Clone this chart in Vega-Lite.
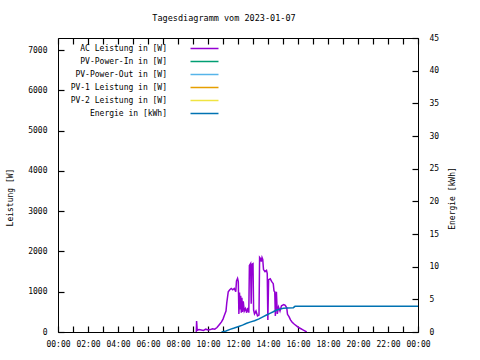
{
  "$schema": "https://vega.github.io/schema/vega-lite/v6.json",
  "autosize": {"type": "none"},
  "width": 360,
  "height": 294,
  "padding": {"left": 58, "top": 38, "right": 62, "bottom": 28},
  "background": "white",
  "config": {
    "font": "DejaVu Sans Mono",
    "view": {"stroke": "black", "strokeWidth": 1},
    "axis": {"labelFont": "DejaVu Sans Mono", "labelFontSize": 8, "labelColor": "black", "titleFont": "DejaVu Sans Mono", "titleFontSize": 8, "titleFontWeight": "normal", "titleColor": "black", "grid": false, "domain": false, "ticks": true, "tickColor": "black", "tickWidth": 1.2, "tickSize": 6, "offset": -6, "labelPadding": 11}
  },
  "title": {"text": "Tagesdiagramm vom 2023-01-07", "font": "DejaVu Sans Mono", "fontSize": 8.5, "fontWeight": "normal", "color": "black", "anchor": "middle", "dx": -14, "offset": 12},
  "datasets": {
    "ac": [
      {"h": 9.22, "w": 0}, {"h": 9.24, "w": 270}, {"h": 9.28, "w": 40}, {"h": 9.4, "w": 60}, {"h": 9.55, "w": 50}, {"h": 9.7, "w": 40}, {"h": 9.85, "w": 70}, {"h": 10.0, "w": 50}, {"h": 10.15, "w": 60}, {"h": 10.3, "w": 80}, {"h": 10.45, "w": 70}, {"h": 10.6, "w": 110}, {"h": 10.75, "w": 180}, {"h": 10.9, "w": 250}, {"h": 11.0, "w": 320}, {"h": 11.1, "w": 420}, {"h": 11.2, "w": 520}, {"h": 11.25, "w": 720}, {"h": 11.35, "w": 1000}, {"h": 11.45, "w": 1050}, {"h": 11.55, "w": 1080}, {"h": 11.65, "w": 1050}, {"h": 11.75, "w": 1080}, {"h": 11.85, "w": 1000}, {"h": 11.9, "w": 1270}, {"h": 11.97, "w": 1330}, {"h": 12.02, "w": 1250}, {"h": 12.06, "w": 450}, {"h": 12.1, "w": 980}, {"h": 12.14, "w": 560}, {"h": 12.18, "w": 900}, {"h": 12.22, "w": 480}, {"h": 12.26, "w": 850}, {"h": 12.3, "w": 500}, {"h": 12.35, "w": 760}, {"h": 12.42, "w": 520}, {"h": 12.5, "w": 580}, {"h": 12.58, "w": 480}, {"h": 12.65, "w": 600}, {"h": 12.72, "w": 480}, {"h": 12.76, "w": 1650}, {"h": 12.84, "w": 1700}, {"h": 12.88, "w": 700}, {"h": 12.92, "w": 1680}, {"h": 13.0, "w": 1700}, {"h": 13.04, "w": 550}, {"h": 13.1, "w": 450}, {"h": 13.2, "w": 520}, {"h": 13.3, "w": 400}, {"h": 13.4, "w": 420}, {"h": 13.44, "w": 1850}, {"h": 13.5, "w": 1820}, {"h": 13.55, "w": 1750}, {"h": 13.6, "w": 1850}, {"h": 13.65, "w": 1800}, {"h": 13.7, "w": 1550}, {"h": 13.8, "w": 1500}, {"h": 13.9, "w": 1530}, {"h": 13.95, "w": 1450}, {"h": 13.99, "w": 300}, {"h": 14.04, "w": 1300}, {"h": 14.15, "w": 1320}, {"h": 14.25, "w": 1250}, {"h": 14.35, "w": 1200}, {"h": 14.4, "w": 1020}, {"h": 14.45, "w": 1000}, {"h": 14.49, "w": 400}, {"h": 14.56, "w": 1000}, {"h": 14.62, "w": 450}, {"h": 14.7, "w": 620}, {"h": 14.8, "w": 520}, {"h": 14.9, "w": 650}, {"h": 15.05, "w": 680}, {"h": 15.15, "w": 660}, {"h": 15.25, "w": 600}, {"h": 15.3, "w": 440}, {"h": 15.4, "w": 380}, {"h": 15.5, "w": 300}, {"h": 15.6, "w": 250}, {"h": 15.7, "w": 210}, {"h": 15.8, "w": 180}, {"h": 15.9, "w": 150}, {"h": 16.0, "w": 120}, {"h": 16.1, "w": 100}, {"h": 16.2, "w": 80}, {"h": 16.3, "w": 60}, {"h": 16.45, "w": 30}, {"h": 16.58, "w": 0}
    ],
    "en": [
      {"h": 10.9, "e": 0}, {"h": 11.2, "e": 0.15}, {"h": 11.47, "e": 0.4}, {"h": 11.75, "e": 0.6}, {"h": 12.0, "e": 0.8}, {"h": 12.3, "e": 1.05}, {"h": 12.58, "e": 1.33}, {"h": 12.85, "e": 1.55}, {"h": 13.1, "e": 1.73}, {"h": 13.4, "e": 2.0}, {"h": 13.69, "e": 2.35}, {"h": 13.9, "e": 2.6}, {"h": 14.13, "e": 2.86}, {"h": 14.35, "e": 3.1}, {"h": 14.58, "e": 3.37}, {"h": 14.8, "e": 3.5}, {"h": 15.02, "e": 3.62}, {"h": 15.3, "e": 3.68}, {"h": 15.69, "e": 3.72}, {"h": 15.8, "e": 3.93}, {"h": 24, "e": 3.95}
    ]
  },
  "layer": [
    {
      "data": {"name": "ac"},
      "transform": [{"calculate": "'AC Leistung in [W]'", "as": "s"}],
      "mark": {"type": "line", "strokeWidth": 1.5, "clip": true},
      "encoding": {
        "x": {"field": "h", "type": "quantitative", "scale": {"domain": [0, 24], "nice": false}, "axis": {"orient": "bottom", "values": [0, 1, 2, 3, 4, 5, 6, 7, 8, 9, 10, 11, 12, 13, 14, 15, 16, 17, 18, 19, 20, 21, 22, 23, 24], "labelExpr": "datum.value % 2 == 1 ? '' : (datum.value % 24 < 10 ? '0' : '') + (datum.value % 24) + ':00'", "title": null, "labelPadding": 8, "labelFlush": false, "labelOverlap": false}},
        "y": {"field": "w", "type": "quantitative", "scale": {"domain": [0, 7300], "nice": false}, "axis": {"orient": "left", "format": "d", "values": [0, 1000, 2000, 3000, 4000, 5000, 6000, 7000], "title": "Leistung [W]", "titleX": -54, "titleY": 159, "titleAngle": -90, "titleBaseline": "middle", "titleAlign": "center"}},
        "color": {"field": "s", "type": "nominal", "scale": {"domain": ["AC Leistung in [W]", "PV-Power-In in [W]", "PV-Power-Out in [W]", "PV-1 Leistung in [W]", "PV-2 Leistung in [W]", "Energie in [kWh]"], "range": ["#9400d3", "#009e73", "#56b4e9", "#e69f00", "#f0e442", "#0072b2"]}, "legend": {"orient": "none", "legendX": 141, "legendY": 5, "title": null, "padding": 0, "symbolType": "M-3,0H3", "symbolSize": 87, "symbolStrokeWidth": 1.5, "symbolFillColor": "transparent", "labelAlign": "right", "labelOffset": -43, "labelFont": "DejaVu Sans Mono", "labelFontSize": 8, "labelColor": "black", "rowPadding": 3, "labelLimit": 300}}
      }
    },
    {
      "data": {"name": "en"},
      "transform": [{"calculate": "'Energie in [kWh]'", "as": "s"}],
      "mark": {"type": "line", "strokeWidth": 1.5, "clip": true},
      "encoding": {
        "x": {"field": "h", "type": "quantitative", "axis": {"orient": "top", "values": [0, 1, 2, 3, 4, 5, 6, 7, 8, 9, 10, 11, 12, 13, 14, 15, 16, 17, 18, 19, 20, 21, 22, 23, 24], "labels": false, "title": null}},
        "y": {"field": "e", "type": "quantitative", "scale": {"domain": [0, 45], "nice": false}, "axis": {"orient": "right", "values": [0, 5, 10, 15, 20, 25, 30, 35, 40, 45], "title": "Energie [kWh]", "titleX": 40, "titleY": 160, "titleAngle": -90, "titleBaseline": "middle", "titleAlign": "center"}},
        "color": {"field": "s", "type": "nominal"}
      }
    }
  ],
  "resolve": {"scale": {"y": "independent"}, "axis": {"x": "independent"}}
}
